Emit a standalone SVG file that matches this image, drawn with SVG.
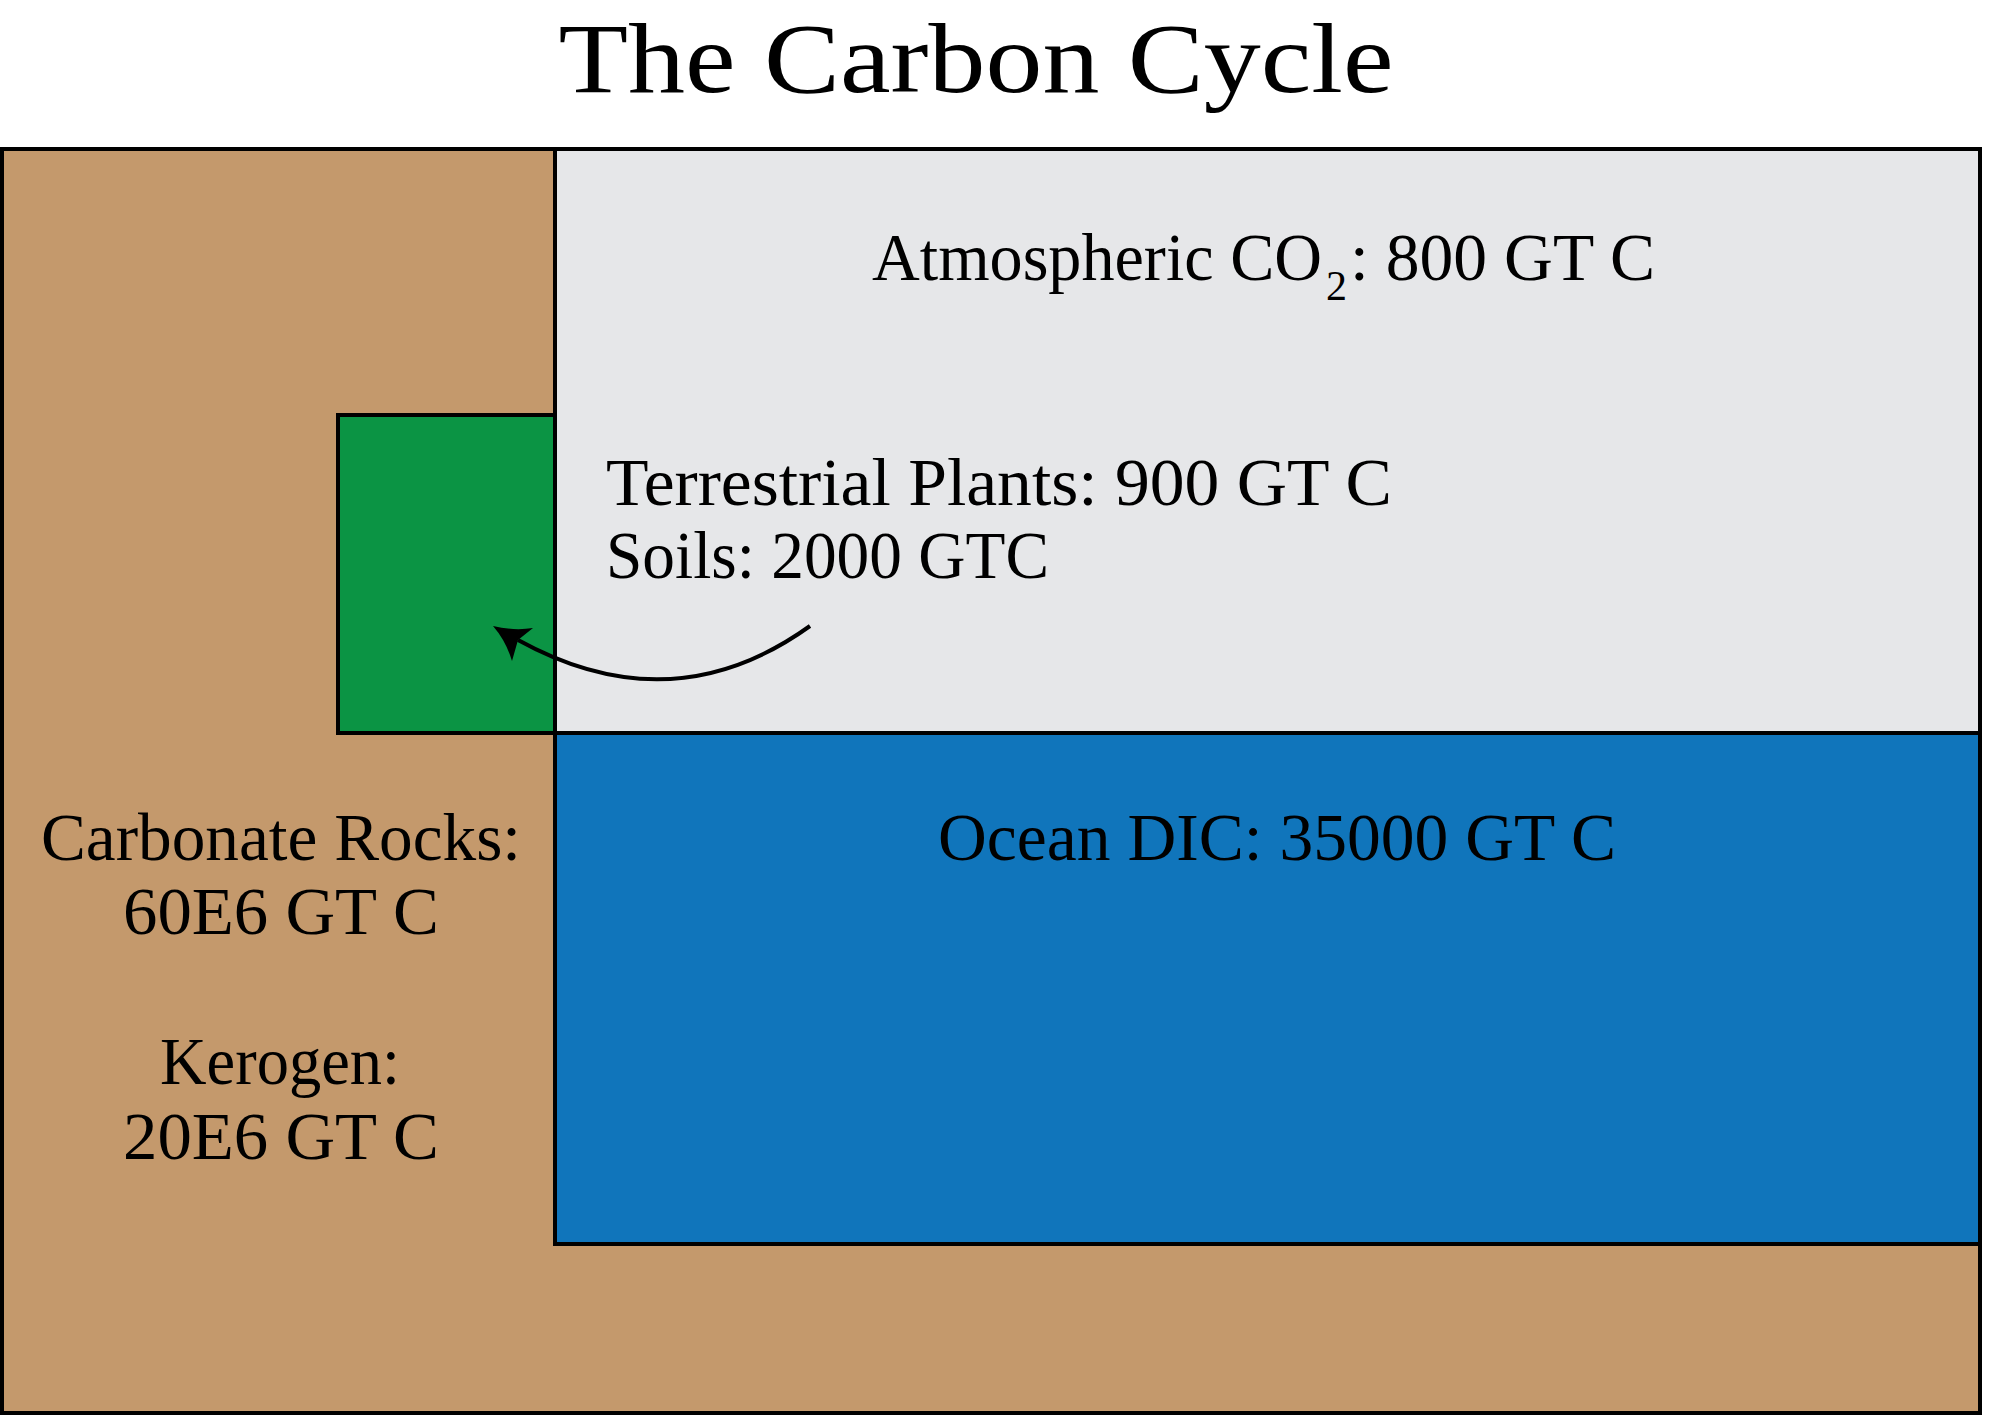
<svg xmlns="http://www.w3.org/2000/svg" width="1993" height="1416" viewBox="0 0 1993 1416">
<style>
.box{stroke:#000;stroke-width:4}
.lbl{font-family:"Liberation Serif","DejaVu Serif",serif;font-size:68px;fill:#000}
.sub{font-family:"Liberation Serif","DejaVu Serif",serif;font-size:42px;fill:#000}
.title{font-family:"Liberation Serif","DejaVu Serif",serif;font-size:100px;fill:#000}
.conn{fill:none;stroke:#000;stroke-width:4}
</style>
<rect width="1993" height="1416" fill="#fff"/>
<text class="title" x="976" y="92" text-anchor="middle" textLength="835" lengthAdjust="spacingAndGlyphs">The Carbon Cycle</text>
<g id="lithosphere">
<rect class="box" x="2" y="149" width="1978" height="1264" fill="#C4996C"/>
<text class="lbl" x="281" y="860" text-anchor="middle" textLength="480" lengthAdjust="spacingAndGlyphs">Carbonate Rocks:</text>
<text class="lbl" x="281" y="934" text-anchor="middle" textLength="316" lengthAdjust="spacingAndGlyphs">60E6 GT C</text>
<text class="lbl" x="280" y="1084" text-anchor="middle" textLength="240" lengthAdjust="spacingAndGlyphs">Kerogen:</text>
<text class="lbl" x="281" y="1159" text-anchor="middle" textLength="316" lengthAdjust="spacingAndGlyphs">20E6 GT C</text>
</g>
<g id="atmosphere">
<rect class="box" x="555" y="149" width="1425" height="584" fill="#E6E7E9"/>
<text class="lbl" x="872" y="280" textLength="450" lengthAdjust="spacingAndGlyphs">Atmospheric CO</text>
<text class="sub" x="1326" y="300">2</text>
<text class="lbl" x="1350" y="280" textLength="305" lengthAdjust="spacingAndGlyphs">: 800 GT C</text>
<text class="lbl" x="606" y="505" textLength="786" lengthAdjust="spacingAndGlyphs">Terrestrial Plants: 900 GT C</text>
<text class="lbl" x="606" y="578" textLength="443" lengthAdjust="spacingAndGlyphs">Soils: 2000 GTC</text>
</g>
<g id="ocean">
<rect class="box" x="555" y="733" width="1425" height="511" fill="#1075BB"/>
<text class="lbl" x="938" y="860" textLength="678" lengthAdjust="spacingAndGlyphs">Ocean DIC: 35000 GT C</text>
</g>
<g id="plants">
<rect class="box" x="338" y="415" width="217" height="318" fill="#0B9444"/>
</g>
<g id="connectors">
<path class="conn" d="M810,626 Q672,725 518,640"/>
<path d="M493,626 Q514,631 533,628 L518,640 L512,661 Q506,641 493,626 Z" fill="#000"/>
</g>
</svg>
